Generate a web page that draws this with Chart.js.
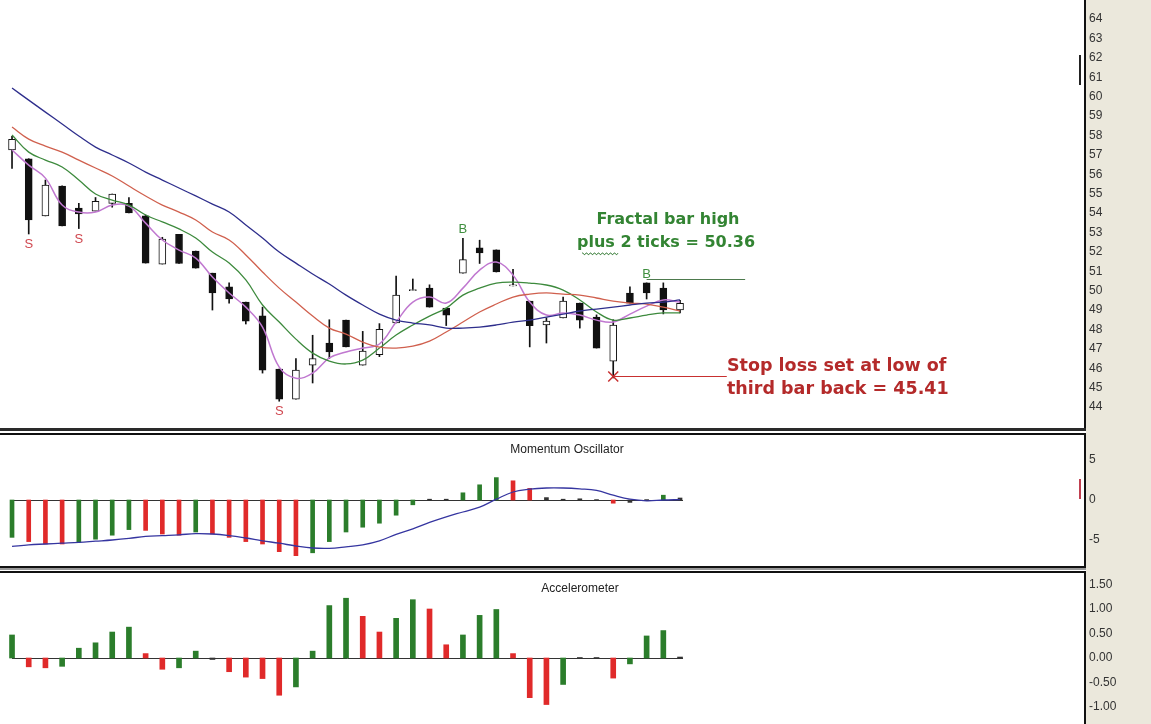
<!DOCTYPE html>
<html>
<head>
<meta charset="utf-8">
<script src="https://cdn.jsdelivr.net/npm/chart.js@4.4.0/dist/chart.umd.min.js"></script>
<style>
  body { margin: 0; width: 1151px; height: 724px; overflow: hidden; background: #fff; position: relative; }
  canvas { position: absolute; left: 0; }
  .box { position: absolute; box-sizing: border-box; }
</style>
</head>
<body>
<div class="box" style="left:1086px;top:0;width:65px;height:724px;background:#ebe8dc;"></div>
<canvas id="precio" width="1151" height="428" style="top:0"></canvas>
<canvas id="momentum" width="1151" height="130" style="top:436px"></canvas>
<canvas id="acelerador" width="1151" height="149" style="top:575px"></canvas>

<!-- marcos de los paneles -->
<div class="box" style="left:1084px;top:0;width:2px;height:430px;background:#111;"></div>
<div class="box" style="left:0;top:428px;width:1086px;height:3px;background:#2a2a2a;"></div>
<div class="box" style="left:-3px;top:433px;width:1089px;height:135px;border:2px solid #111;"></div>
<div class="box" style="left:0;top:568px;width:1086px;height:2px;background:#999;"></div>
<div class="box" style="left:-3px;top:571px;width:1089px;height:160px;border:2px solid #111;"></div>
<div class="box" style="left:1079px;top:55px;width:2px;height:30px;background:#222;"></div>
<div class="box" style="left:1079px;top:479px;width:2px;height:20px;background:#c04050;"></div>

<script>
// Velas (una por sesión, índice 0..40)
var opens  = [57.25, 56.8, 53.85, 55.39, 54.26, 54.1, 54.5, 54.5, 53.85, 51.37, 52.9, 52.04, 50.9, 50.2, 49.41, 48.7, 45.96, 44.41, 46.16, 47.3, 48.48, 46.16, 46.7, 48.33, 50.0, 50.13, 49.1, 50.9, 52.2, 52.1, 50.24, 49.46, 48.23, 48.6, 49.36, 48.64, 46.37, 49.88, 50.4, 50.13, 49.0];
var highs  = [57.95, 56.8, 55.7, 55.4, 54.5, 54.8, 54.98, 54.8, 53.9, 52.75, 52.9, 52.04, 50.9, 50.4, 49.41, 49.15, 45.96, 46.5, 47.7, 48.5, 48.48, 47.9, 48.3, 50.75, 50.6, 50.3, 49.1, 52.7, 52.6, 52.1, 51.1, 49.46, 48.6, 49.67, 49.36, 48.75, 48.5, 50.2, 50.4, 50.4, 49.5];
var lows   = [56.3, 52.92, 53.85, 53.33, 53.2, 54.1, 54.3, 54.0, 51.42, 51.37, 51.4, 51.16, 49.0, 49.36, 48.28, 45.75, 44.3, 44.41, 45.24, 46.5, 47.1, 46.16, 46.6, 48.33, 50.0, 49.15, 48.2, 50.9, 51.4, 50.96, 50.24, 47.1, 47.3, 48.6, 48.07, 47.04, 45.5, 49.36, 49.57, 48.8, 48.85];
var closes = [57.8, 53.64, 55.44, 53.33, 53.95, 54.6, 54.98, 54.0, 51.42, 52.66, 51.4, 51.16, 49.88, 49.57, 48.43, 45.9, 44.41, 45.9, 46.5, 46.84, 47.1, 46.89, 48.0, 49.77, 50.06, 49.15, 48.74, 51.6, 51.94, 50.96, 50.3, 48.2, 48.43, 49.46, 48.48, 47.04, 48.23, 49.36, 49.88, 49.0, 49.35];

// Medias móviles
var maBlue    = [60.44, 59.82, 59.2, 58.59, 57.97, 57.4, 56.99, 56.58, 56.11, 55.7, 55.29, 54.88, 54.46, 54.05, 53.38, 52.71, 51.99, 51.42, 50.86, 50.34, 49.77, 49.26, 48.79, 48.48, 48.33, 48.23, 48.07, 48.07, 48.12, 48.23, 48.38, 48.48, 48.64, 48.79, 48.95, 49.05, 49.15, 49.26, 49.36, 49.41, 49.52];
var maRed     = [58.43, 57.81, 57.45, 57.14, 56.73, 56.32, 55.91, 55.39, 54.88, 54.41, 54.05, 53.64, 53.02, 52.61, 51.84, 50.96, 50.13, 49.41, 48.69, 48.07, 47.76, 47.35, 47.09, 47.04, 47.14, 47.4, 47.87, 48.38, 48.9, 49.31, 49.67, 49.82, 49.88, 49.82, 49.77, 49.62, 49.46, 49.36, 49.31, 49.15, 48.95];
var maGreen   = [58.02, 57.14, 56.73, 56.37, 55.7, 54.98, 54.67, 54.41, 53.9, 53.54, 53.18, 52.71, 51.99, 51.42, 50.55, 49.26, 48.38, 47.5, 46.78, 46.37, 46.22, 46.42, 47.04, 47.71, 48.23, 48.69, 49.1, 49.77, 50.13, 50.39, 50.44, 50.39, 50.29, 50.03, 49.52, 48.9, 48.48, 48.59, 48.74, 48.85, 48.85];
var maMagenta = [57.25, 56.47, 55.8, 54.41, 54.05, 54.05, 54.41, 54.36, 53.48, 52.61, 52.09, 51.68, 50.7, 49.88, 49.15, 48.12, 46.06, 45.49, 45.75, 46.53, 46.84, 47.04, 47.25, 48.38, 49.41, 49.67, 49.36, 50.13, 51.06, 51.47, 50.8, 49.41, 48.74, 48.85, 48.74, 48.48, 48.38, 48.79, 49.2, 49.52, 49.41];

var priceTicks = [44, 45, 46, 47, 48, 49, 50, 51, 52, 53, 54, 55, 56, 57, 58, 59, 60, 61, 62, 63, 64];
var sellBars = [1, 4, 16];
var buyBars = [27, 38];
var fractalLevel = 50.58;
var stopLevel = 45.6;

// Oscilador de momento
var momentum = [-4.67, -5.2, -5.5, -5.5, -5.3, -4.9, -4.4, -3.7, -3.8, -4.25, -4.4, -4.0, -4.25, -4.67, -5.2, -5.5, -6.46, -6.96, -6.6, -5.2, -4.0, -3.4, -2.9, -1.9, -0.6, 0.1, 0.1, 0.9, 1.9, 2.8, 2.4, 1.45, 0.3, 0.1, 0.15, 0.05, -0.4, -0.3, 0.05, 0.6, 0.25];
var momentumColors = ['G','R','R','R','G','G','G','G','R','R','R','G','R','R','R','R','R','R','G','G','G','G','G','G','G','K','K','G','G','G','R','R','K','K','K','K','R','K','K','G','K'];
var momentumSignal = [-5.8, -5.6, -5.5, -5.4, -5.3, -5.15, -5.0, -4.8, -4.55, -4.45, -4.35, -4.2, -4.25, -4.45, -4.75, -5.1, -5.4, -5.75, -6.0, -6.04, -5.85, -5.6, -5.1, -4.3, -3.6, -2.8, -2.1, -1.5, -0.9, 0.1, 1.0, 1.35, 1.5, 1.5, 1.4, 1.2, 0.6, 0.1, -0.1, 0, 0.05];
var momentumTicks = [5, 0, -5];

// Acelerómetro
var accel = [0.47, -0.18, -0.2, -0.17, 0.2, 0.31, 0.53, 0.63, 0.09, -0.23, -0.2, 0.14, -0.03, -0.28, -0.39, -0.42, -0.76, -0.59, 0.14, 1.07, 1.22, 0.85, 0.53, 0.81, 1.19, 1.0, 0.27, 0.47, 0.87, 0.99, 0.09, -0.81, -0.95, -0.54, 0.01, 0.01, -0.41, -0.12, 0.45, 0.56, 0.02];
var accelColors = ['G','R','R','G','G','G','G','G','R','R','G','G','K','R','R','R','R','G','G','G','G','R','R','G','G','R','R','G','G','G','R','R','R','G','K','K','R','G','G','G','K'];
var accelTicks = [1.5, 1.0, 0.5, 0.0, -0.5, -1.0];

var palette = { G: '#2b7d2b', R: '#e02a2a', K: '#333333' };

function pts(arr) {
    return arr.map(function (v, i) { return { x: i, y: v }; });
}

// Eje X común a los tres paneles
var xScale = { type: 'linear', min: -0.72, max: 64.25, display: false, offset: false };

function yScale(min, max, ticks, fmt) {
    return {
        position: 'right', min: min, max: max,
        grid: { display: false, drawTicks: false }, border: { display: false },
        ticks: { color: '#333', padding: 4, font: { family: 'Liberation Sans', size: 12 }, callback: fmt },
        afterBuildTicks: function (s) { s.ticks = ticks.map(function (v) { return { value: v }; }); },
        afterFit: function (s) { s.width = 66; s.paddingTop = 0; s.paddingBottom = 0; }
    };
}

var common = {
    responsive: false, animation: false, devicePixelRatio: 1,
    layout: { padding: 0 },
    plugins: { legend: { display: false }, tooltip: { enabled: false } }
};

// Textos y marcas del panel de precios
var anotaciones = {
    id: 'anotaciones',
    afterDatasetsDraw: function (chart) {
        var ctx = chart.ctx, x = chart.scales.x, y = chart.scales.y;
        ctx.save();
        ctx.font = '13px "Liberation Sans"';
        ctx.textAlign = 'center';
        ctx.fillStyle = '#d04850';
        ctx.textBaseline = 'top';
        sellBars.forEach(function (i) { ctx.fillText('S', x.getPixelForValue(i), y.getPixelForValue(lows[i]) + 4); });
        ctx.fillStyle = '#3f8f3f';
        ctx.textBaseline = 'bottom';
        buyBars.forEach(function (i) { ctx.fillText('B', x.getPixelForValue(i), y.getPixelForValue(highs[i]) - 2); });

        // linea del fractal
        ctx.lineWidth = 1;
        ctx.strokeStyle = '#4d7a4d';
        var fy = Math.round(y.getPixelForValue(fractalLevel)) + 0.5;
        ctx.beginPath(); ctx.moveTo(x.getPixelForValue(buyBars[1]), fy); ctx.lineTo(x.getPixelForValue(43.9), fy); ctx.stroke();

        // linea del stop
        ctx.strokeStyle = '#c83030';
        var sy = Math.round(y.getPixelForValue(stopLevel)) + 0.5;
        var sx = x.getPixelForValue(36);
        ctx.beginPath(); ctx.moveTo(sx, sy); ctx.lineTo(x.getPixelForValue(42.8), sy); ctx.stroke();
        ctx.lineWidth = 1.5;
        ctx.beginPath();
        ctx.moveTo(sx - 5, sy - 5); ctx.lineTo(sx + 5, sy + 5);
        ctx.moveTo(sx + 5, sy - 5); ctx.lineTo(sx - 5, sy + 5);
        ctx.stroke();

        // textos
        ctx.textBaseline = 'middle';
        ctx.fillStyle = '#338433';
        ctx.font = 'bold 16px "DejaVu Sans"';
        ctx.fillText('Fractal bar high', 668, 220);
        ctx.fillText('plus 2 ticks = 50.36', 666, 243);
        // subrayado ondulado bajo "plus"
        ctx.strokeStyle = '#4d8a4d';
        ctx.lineWidth = 1;
        ctx.beginPath();
        for (var k = 0; k <= 36; k++) {
            var px = 582 + k;
            var py = 253 + (k % 4 < 2 ? 0 : 1.6);
            if (k === 0) ctx.moveTo(px, py); else ctx.lineTo(px, py);
        }
        ctx.stroke();

        ctx.fillStyle = '#b42a2a';
        ctx.textAlign = 'left';
        ctx.font = 'bold 17.5px "DejaVu Sans"';
        ctx.fillText('Stop loss set at low of', 727, 366);
        ctx.fillText('third bar back = 45.41', 727, 389);
        ctx.restore();
    }
};

function panelPlugin(title, cx) {
    return {
        id: 'panel',
        beforeDatasetsDraw: function (chart) {
            var ctx = chart.ctx, x = chart.scales.x, y = chart.scales.y;
            var zy = Math.round(y.getPixelForValue(0)) + 0.5;
            ctx.save();
            ctx.strokeStyle = '#333';
            ctx.lineWidth = 1;
            ctx.beginPath();
            ctx.moveTo(x.getPixelForValue(0), zy);
            ctx.lineTo(x.getPixelForValue(momentum.length - 1) + 3, zy);
            ctx.stroke();
            ctx.fillStyle = '#222';
            ctx.font = '12px "Liberation Sans"';
            ctx.textAlign = 'center';
            ctx.textBaseline = 'middle';
            ctx.fillText(title, cx, 14);
            ctx.restore();
        }
    };
}

// Panel de precios
new Chart('precio', {
    type: 'bar',
    data: {
        datasets: [
            { type: 'line', data: pts(maBlue), borderColor: '#2e2e8c', borderWidth: 1.3, pointRadius: 0, tension: 0.4, order: 1 },
            { type: 'line', data: pts(maRed), borderColor: '#d0604e', borderWidth: 1.3, pointRadius: 0, tension: 0.4, order: 1 },
            { type: 'line', data: pts(maGreen), borderColor: '#3d8a3d', borderWidth: 1.3, pointRadius: 0, tension: 0.4, order: 1 },
            { type: 'line', data: pts(maMagenta), borderColor: '#c078d0', borderWidth: 1.5, pointRadius: 0, tension: 0.4, order: 1 },
            {
                data: opens.map(function (o, i) { return { x: i, y: [o, closes[i]] }; }),
                backgroundColor: opens.map(function (o, i) { return closes[i] > o ? '#ffffff' : '#111111'; }),
                borderColor: '#111', borderWidth: 1, borderSkipped: false,
                barThickness: 7, grouped: false, order: 3
            },
            {
                data: lows.map(function (l, i) { return { x: i, y: [l, highs[i]] }; }),
                backgroundColor: '#111', barThickness: 1, grouped: false, order: 4
            }
        ]
    },
    options: Object.assign({}, common, {
        scales: { x: xScale, y: yScale(42.92, 64.98, priceTicks, function (v) { return String(v); }) }
    }),
    plugins: [anotaciones]
});

// Oscilador de momento
new Chart('momentum', {
    type: 'bar',
    data: {
        datasets: [
            { type: 'line', data: pts(momentumSignal), borderColor: '#3535a0', borderWidth: 1.3, pointRadius: 0, tension: 0.4, order: 1 },
            {
                data: pts(momentum),
                backgroundColor: momentumColors.map(function (c) { return palette[c]; }),
                barThickness: 4, grouped: false, order: 2
            }
        ]
    },
    options: Object.assign({}, common, {
        scales: { x: xScale, y: yScale(-8.25, 8, momentumTicks, function (v) { return String(v); }) }
    }),
    plugins: [panelPlugin('Momentum Oscillator', 567)]
});

// Acelerómetro
new Chart('acelerador', {
    type: 'bar',
    data: {
        datasets: [
            {
                data: pts(accel),
                backgroundColor: accelColors.map(function (c) { return palette[c]; }),
                barThickness: 5, grouped: false, order: 2
            }
        ]
    },
    options: Object.assign({}, common, {
        scales: { x: xScale, y: yScale(-1.347, 1.694, accelTicks, function (v) { return v.toFixed(2); }) }
    }),
    plugins: [panelPlugin('Accelerometer', 580)]
});
</script>
</body>
</html>
